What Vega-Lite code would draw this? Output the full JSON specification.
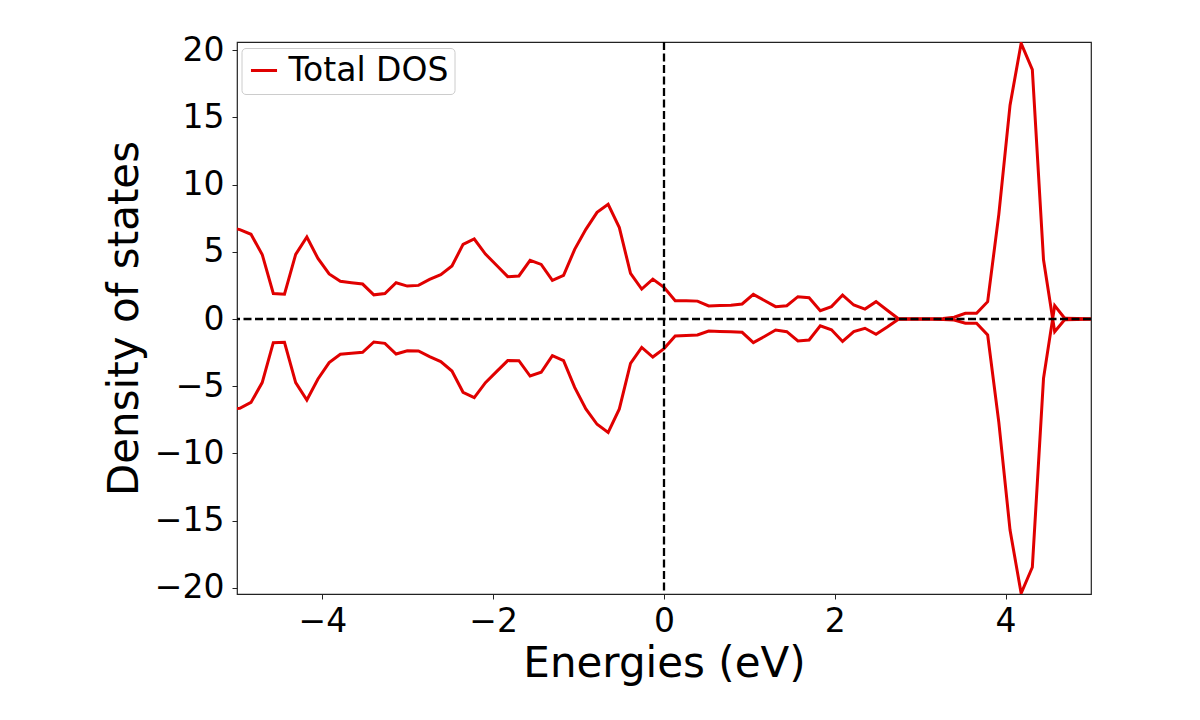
{
  "$schema": "https://vega.github.io/schema/vega-lite/v6.json",
  "width": 854,
  "height": 552,
  "autosize": {"type": "none"},
  "padding": {"left": 237, "top": 42, "right": 109, "bottom": 126},
  "background": "white",
  "config": {
    "view": {"stroke": "#222222", "strokeWidth": 1.2, "fill": "white"},
    "font": "DejaVu Sans",
    "axis": {
      "domain": false,
      "grid": false,
      "labelFont": "DejaVu Sans",
      "labelFontSize": 33,
      "labelColor": "black",
      "tickColor": "#222222",
      "tickSize": 5,
      "tickWidth": 1,
      "titleFont": "DejaVu Sans",
      "titleFontWeight": "normal",
      "titleColor": "black"
    }
  },
  "datasets": {
    "dos": [
      {"E": -5.097, "dos": 6.8, "spin": "up"}, {"E": -4.967, "dos": 6.65, "spin": "up"}, {"E": -4.836, "dos": 6.3, "spin": "up"}, {"E": -4.705, "dos": 4.8, "spin": "up"}, {"E": -4.575, "dos": 1.9, "spin": "up"}, {"E": -4.444, "dos": 1.85, "spin": "up"}, {"E": -4.313, "dos": 4.8, "spin": "up"}, {"E": -4.182, "dos": 6.1, "spin": "up"}, {"E": -4.052, "dos": 4.5, "spin": "up"}, {"E": -3.921, "dos": 3.35, "spin": "up"},
      {"E": -3.79, "dos": 2.8, "spin": "up"}, {"E": -3.66, "dos": 2.7, "spin": "up"}, {"E": -3.529, "dos": 2.6, "spin": "up"}, {"E": -3.398, "dos": 1.8, "spin": "up"}, {"E": -3.268, "dos": 1.9, "spin": "up"}, {"E": -3.137, "dos": 2.7, "spin": "up"}, {"E": -3.006, "dos": 2.45, "spin": "up"}, {"E": -2.875, "dos": 2.5, "spin": "up"}, {"E": -2.745, "dos": 2.95, "spin": "up"}, {"E": -2.614, "dos": 3.3, "spin": "up"},
      {"E": -2.483, "dos": 3.94, "spin": "up"}, {"E": -2.353, "dos": 5.55, "spin": "up"}, {"E": -2.222, "dos": 5.95, "spin": "up"}, {"E": -2.091, "dos": 4.83, "spin": "up"}, {"E": -1.961, "dos": 4.0, "spin": "up"}, {"E": -1.83, "dos": 3.15, "spin": "up"}, {"E": -1.699, "dos": 3.2, "spin": "up"}, {"E": -1.568, "dos": 4.36, "spin": "up"}, {"E": -1.438, "dos": 4.06, "spin": "up"}, {"E": -1.307, "dos": 2.87, "spin": "up"},
      {"E": -1.176, "dos": 3.24, "spin": "up"}, {"E": -1.046, "dos": 5.18, "spin": "up"}, {"E": -0.915, "dos": 6.67, "spin": "up"}, {"E": -0.784, "dos": 7.93, "spin": "up"}, {"E": -0.654, "dos": 8.53, "spin": "up"}, {"E": -0.523, "dos": 6.8, "spin": "up"}, {"E": -0.392, "dos": 3.39, "spin": "up"}, {"E": -0.261, "dos": 2.23, "spin": "up"}, {"E": -0.131, "dos": 2.97, "spin": "up"}, {"E": 0.0, "dos": 2.35, "spin": "up"},
      {"E": 0.131, "dos": 1.36, "spin": "up"}, {"E": 0.261, "dos": 1.35, "spin": "up"}, {"E": 0.392, "dos": 1.33, "spin": "up"}, {"E": 0.523, "dos": 0.97, "spin": "up"}, {"E": 0.654, "dos": 1.0, "spin": "up"}, {"E": 0.784, "dos": 1.02, "spin": "up"}, {"E": 0.915, "dos": 1.12, "spin": "up"}, {"E": 1.046, "dos": 1.83, "spin": "up"}, {"E": 1.176, "dos": 1.38, "spin": "up"}, {"E": 1.307, "dos": 0.92, "spin": "up"},
      {"E": 1.438, "dos": 0.99, "spin": "up"}, {"E": 1.568, "dos": 1.66, "spin": "up"}, {"E": 1.699, "dos": 1.58, "spin": "up"}, {"E": 1.83, "dos": 0.62, "spin": "up"}, {"E": 1.961, "dos": 0.92, "spin": "up"}, {"E": 2.091, "dos": 1.78, "spin": "up"}, {"E": 2.222, "dos": 1.04, "spin": "up"}, {"E": 2.353, "dos": 0.74, "spin": "up"}, {"E": 2.483, "dos": 1.29, "spin": "up"}, {"E": 2.614, "dos": 0.65, "spin": "up"},
      {"E": 2.745, "dos": 0.02, "spin": "up"}, {"E": 2.875, "dos": 0.01, "spin": "up"}, {"E": 3.006, "dos": 0.01, "spin": "up"}, {"E": 3.137, "dos": 0.02, "spin": "up"}, {"E": 3.268, "dos": 0.03, "spin": "up"}, {"E": 3.398, "dos": 0.13, "spin": "up"}, {"E": 3.529, "dos": 0.42, "spin": "up"}, {"E": 3.66, "dos": 0.42, "spin": "up"}, {"E": 3.79, "dos": 1.29, "spin": "up"}, {"E": 3.921, "dos": 7.8, "spin": "up"},
      {"E": 4.052, "dos": 15.9, "spin": "up"}, {"E": 4.182, "dos": 20.5, "spin": "up"}, {"E": 4.313, "dos": 18.55, "spin": "up"}, {"E": 4.444, "dos": 4.4, "spin": "up"}, {"E": 4.575, "dos": -0.94, "spin": "up"}, {"E": 4.705, "dos": 0.05, "spin": "up"}, {"E": 4.836, "dos": 0.03, "spin": "up"}, {"E": 4.967, "dos": 0.02, "spin": "up"}, {"E": 5.097, "dos": 0.02, "spin": "up"},
      {"E": -5.097, "dos": -6.7, "spin": "down"}, {"E": -4.967, "dos": -6.64, "spin": "down"}, {"E": -4.836, "dos": -6.2, "spin": "down"}, {"E": -4.705, "dos": -4.73, "spin": "down"}, {"E": -4.575, "dos": -1.76, "spin": "down"}, {"E": -4.444, "dos": -1.73, "spin": "down"}, {"E": -4.313, "dos": -4.73, "spin": "down"}, {"E": -4.182, "dos": -6.02, "spin": "down"}, {"E": -4.052, "dos": -4.46, "spin": "down"}, {"E": -3.921, "dos": -3.24, "spin": "down"},
      {"E": -3.79, "dos": -2.62, "spin": "down"}, {"E": -3.66, "dos": -2.55, "spin": "down"}, {"E": -3.529, "dos": -2.48, "spin": "down"}, {"E": -3.398, "dos": -1.71, "spin": "down"}, {"E": -3.268, "dos": -1.81, "spin": "down"}, {"E": -3.137, "dos": -2.6, "spin": "down"}, {"E": -3.006, "dos": -2.36, "spin": "down"}, {"E": -2.875, "dos": -2.38, "spin": "down"}, {"E": -2.745, "dos": -2.8, "spin": "down"}, {"E": -2.614, "dos": -3.17, "spin": "down"},
      {"E": -2.483, "dos": -3.87, "spin": "down"}, {"E": -2.353, "dos": -5.45, "spin": "down"}, {"E": -2.222, "dos": -5.85, "spin": "down"}, {"E": -2.091, "dos": -4.73, "spin": "down"}, {"E": -1.961, "dos": -3.91, "spin": "down"}, {"E": -1.83, "dos": -3.09, "spin": "down"}, {"E": -1.699, "dos": -3.1, "spin": "down"}, {"E": -1.568, "dos": -4.24, "spin": "down"}, {"E": -1.438, "dos": -3.96, "spin": "down"}, {"E": -1.307, "dos": -2.72, "spin": "down"},
      {"E": -1.176, "dos": -3.1, "spin": "down"}, {"E": -1.046, "dos": -5.08, "spin": "down"}, {"E": -0.915, "dos": -6.69, "spin": "down"}, {"E": -0.784, "dos": -7.83, "spin": "down"}, {"E": -0.654, "dos": -8.43, "spin": "down"}, {"E": -0.523, "dos": -6.69, "spin": "down"}, {"E": -0.392, "dos": -3.3, "spin": "down"}, {"E": -0.261, "dos": -2.11, "spin": "down"}, {"E": -0.131, "dos": -2.83, "spin": "down"}, {"E": 0.0, "dos": -2.2, "spin": "down"},
      {"E": 0.131, "dos": -1.26, "spin": "down"}, {"E": 0.261, "dos": -1.23, "spin": "down"}, {"E": 0.392, "dos": -1.19, "spin": "down"}, {"E": 0.523, "dos": -0.89, "spin": "down"}, {"E": 0.654, "dos": -0.92, "spin": "down"}, {"E": 0.784, "dos": -0.94, "spin": "down"}, {"E": 0.915, "dos": -0.99, "spin": "down"}, {"E": 1.046, "dos": -1.76, "spin": "down"}, {"E": 1.176, "dos": -1.3, "spin": "down"}, {"E": 1.307, "dos": -0.82, "spin": "down"},
      {"E": 1.438, "dos": -0.94, "spin": "down"}, {"E": 1.568, "dos": -1.63, "spin": "down"}, {"E": 1.699, "dos": -1.56, "spin": "down"}, {"E": 1.83, "dos": -0.5, "spin": "down"}, {"E": 1.961, "dos": -0.8, "spin": "down"}, {"E": 2.091, "dos": -1.67, "spin": "down"}, {"E": 2.222, "dos": -0.94, "spin": "down"}, {"E": 2.353, "dos": -0.69, "spin": "down"}, {"E": 2.483, "dos": -1.14, "spin": "down"}, {"E": 2.614, "dos": -0.6, "spin": "down"},
      {"E": 2.745, "dos": -0.02, "spin": "down"}, {"E": 2.875, "dos": -0.01, "spin": "down"}, {"E": 3.006, "dos": -0.01, "spin": "down"}, {"E": 3.137, "dos": -0.02, "spin": "down"}, {"E": 3.268, "dos": -0.03, "spin": "down"}, {"E": 3.398, "dos": -0.08, "spin": "down"}, {"E": 3.529, "dos": -0.32, "spin": "down"}, {"E": 3.66, "dos": -0.32, "spin": "down"}, {"E": 3.79, "dos": -1.19, "spin": "down"}, {"E": 3.921, "dos": -7.7, "spin": "down"},
      {"E": 4.052, "dos": -15.7, "spin": "down"}, {"E": 4.182, "dos": -20.4, "spin": "down"}, {"E": 4.313, "dos": -18.46, "spin": "down"}, {"E": 4.444, "dos": -4.41, "spin": "down"}, {"E": 4.575, "dos": 1.0, "spin": "down"}, {"E": 4.705, "dos": -0.05, "spin": "down"}, {"E": 4.836, "dos": -0.03, "spin": "down"}, {"E": 4.967, "dos": -0.02, "spin": "down"}, {"E": 5.097, "dos": -0.02, "spin": "down"}
    ]
  },
  "layer": [
    {
      "data": {"name": "dos"},
      "mark": {"type": "line", "strokeWidth": 3, "clip": true},
      "encoding": {
        "x": {
          "field": "E",
          "type": "quantitative",
          "scale": {"domain": [-5, 5], "nice": false, "zero": false},
          "axis": {
            "values": [-4, -2, 0, 2, 4],
            "format": "d",
            "title": "Energies (eV)",
            "titleFontSize": 42,
            "titlePadding": 5,
            "labelPadding": 6,
            "labelExpr": "replace(datum.label, '-', '\u2212')"
          }
        },
        "y": {
          "field": "dos",
          "type": "quantitative",
          "scale": {"domain": [-20.45, 20.6], "nice": false, "zero": false},
          "axis": {
            "values": [-20, -15, -10, -5, 0, 5, 10, 15, 20],
            "format": "d",
            "title": "Density of states",
            "titleFontSize": 42,
            "titlePadding": 8,
            "labelPadding": 8,
            "labelExpr": "replace(datum.label, '-', '\u2212')"
          }
        },
        "detail": {"field": "spin"},
        "color": {
          "datum": "Total DOS",
          "type": "nominal",
          "scale": {"range": ["#e00000"]},
          "legend": {
            "title": null,
            "orient": "none",
            "legendX": 4.5,
            "legendY": 6,
            "symbolType": "stroke",
            "symbolSize": 680,
            "symbolStrokeWidth": 3,
            "labelFontSize": 33,
            "labelFont": "DejaVu Sans",
            "labelColor": "black",
            "labelOffset": 8,
            "padding": 6,
            "strokeColor": "#cccccc",
            "fillColor": "white",
            "cornerRadius": 4
          }
        }
      }
    },
    {
      "data": {"values": [{}]},
      "mark": {"type": "rule", "color": "black", "strokeWidth": 2.3, "strokeDash": [8, 3.5]},
      "encoding": {"y": {"datum": 0}}
    },
    {
      "data": {"values": [{}]},
      "mark": {"type": "rule", "color": "black", "strokeWidth": 2.3, "strokeDash": [8, 3.5]},
      "encoding": {"x": {"datum": 0}}
    }
  ]
}
